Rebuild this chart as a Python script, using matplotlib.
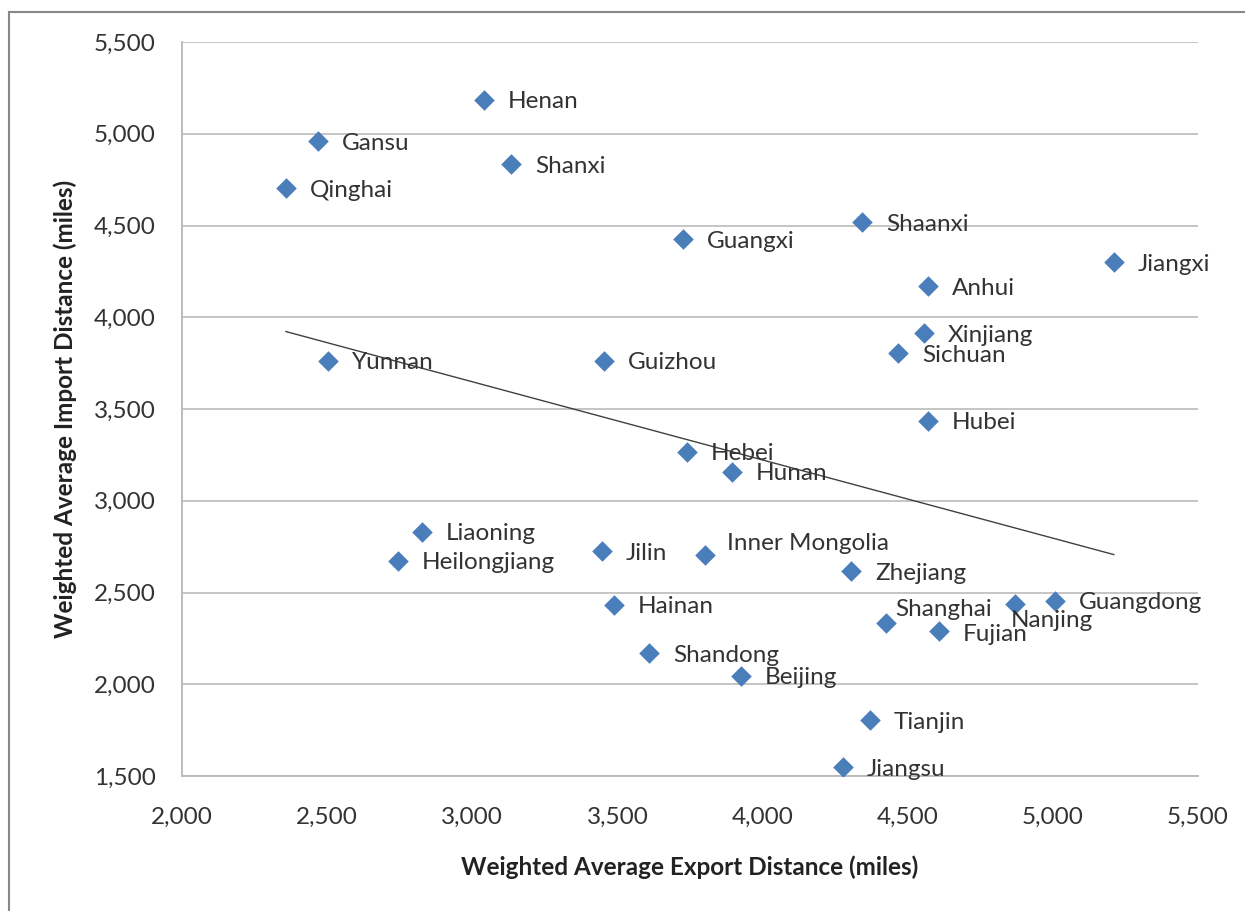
import numpy as np
import matplotlib.pyplot as plt
from matplotlib.lines import Line2D

# Province data
provinces = ['Henan', 'Gansu', 'Shanxi', 'Qinghai', 'Shaanxi', 'Guangxi', 'Jiangxi',
             'Anhui', 'Xinjiang', 'Sichuan', 'Yunnan', 'Guizhou', 'Hubei', 'Hebei',
             'Hunan', 'Liaoning', 'Heilongjiang', 'Jilin', 'Inner Mongolia', 'Zhejiang',
             'Hainan', 'Guangdong', 'Nanjing', 'Shanghai', 'Fujian', 'Shandong',
             'Beijing', 'Tianjin', 'Jiangsu']
export_dist = [3040, 2468, 3133, 2358, 4342, 3726, 5210,
               4570, 4556, 4466, 2503, 3454, 4570, 3740,
               3895, 2827, 2744, 3447, 3802, 4305,
               3488, 5007, 4869, 4425, 4608, 3609,
               3926, 4370, 4277]
import_dist = [5184, 4960, 4835, 4704, 4519, 4426, 4301,
               4170, 3914, 3805, 3762, 3762, 3435, 3266,
               3157, 2830, 2672, 2726, 2704, 2617,
               2432, 2454, 2437, 2334, 2290, 2170,
               2045, 1805, 1549]

x_ticks = [2000, 2500, 3000, 3500, 4000, 4500, 5000, 5500]
y_ticks = [1500, 2000, 2500, 3000, 3500, 4000, 4500, 5000, 5500]

# label offsets in pixels (dx, dy), default is right of the marker
default_off = (24, -2)
label_off = {
    'Inner Mongolia': (22, 12),
    'Shanghai': (9, 13),
    'Nanjing': (-4, -16),
    'Fujian': (24, -3),
}

plt.rcParams['font.family'] = ['Lato', 'DejaVu Sans']

fig = plt.figure(figsize=(12.45, 9.11), dpi=100)
ax = fig.add_axes([182/1245, 1 - 776/911, (1198-182)/1245, (776-42)/911])

ex = np.array(export_dist, dtype=float)
im = np.array(import_dist, dtype=float)

ax.scatter(ex, im, marker='D', s=110, color='#4a7ebb', zorder=3, linewidths=0)

# linear trend line over the data range
k, b = np.polyfit(ex, im, 1)
xs = np.array([ex.min(), ex.max()])
ax.plot(xs, k * xs + b, color='#404040', lw=1.0, zorder=2)

for name, xv, yv in zip(provinces, export_dist, import_dist):
    dx, dy = label_off.get(name, default_off)
    ax.annotate(name, (xv, yv), xytext=(dx * 0.72, dy * 0.72), textcoords='offset points',
                ha='left', va='center', fontsize=17.5, color='#333333', zorder=4)

ax.set_xlim(2000, 5500)
ax.set_ylim(1500, 5500)
ax.set_xticks(x_ticks)
ax.set_yticks(y_ticks)
ax.set_xticklabels([f'{v:,}' for v in x_ticks])
ax.set_yticklabels([f'{v:,}' for v in y_ticks])
ax.tick_params(length=0, labelsize=17.5, labelcolor='#333333')
ax.tick_params(axis='y', pad=19)
ax.tick_params(axis='x', pad=22)
ax.grid(axis='y', color='#c0c0c0', lw=1.3)
ax.set_axisbelow(True)
for side in ['top', 'right']:
    ax.spines[side].set_visible(False)
for side in ['left', 'bottom']:
    ax.spines[side].set_color('#b8b8b8')
    ax.spines[side].set_linewidth(1.3)

ax.set_xlabel('Weighted Average Export Distance (miles)', fontsize=17.5, fontweight='bold',
              color='#222222', labelpad=20)
ax.set_ylabel('Weighted Average Import Distance (miles)', fontsize=17.5, fontweight='bold',
              color='#222222', labelpad=12)

# outer chart frame (top and left edges visible)
fig.add_artist(Line2D([9/1245, 1], [1 - 12/911, 1 - 12/911], color='#888888', lw=1.5))
fig.add_artist(Line2D([9/1245, 9/1245], [0, 1 - 12/911], color='#888888', lw=1.5))

fig.savefig('out.png', dpi=100)
